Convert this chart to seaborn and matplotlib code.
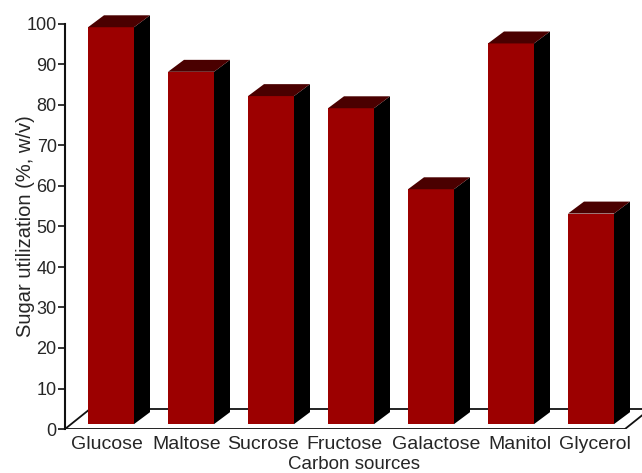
import numpy as np
import pandas as pd
import matplotlib
matplotlib.use("Agg")
import matplotlib.pyplot as plt
import matplotlib.transforms as mtransforms
from matplotlib.patches import Polygon
import seaborn as sns

# datos
sources = ["Glucose", "Maltose", "Sucrose", "Fructose", "Galactose", "Manitol", "Glycerol"]
utilization = [98, 87, 81, 78, 58, 94, 52]
yticks = [0, 10, 20, 30, 40, 50, 60, 70, 80, 90, 100]

df = pd.DataFrame({"source": sources, "value": utilization})

sns.set_style("white")
plt.rcParams["font.family"] = ["Liberation Sans", "DejaVu Sans"]

fig = plt.figure(figsize=(6.42, 4.73), dpi=100)
ax = fig.add_axes([65 / 642, 44 / 473, 577 / 642, 405 / 473])

front = "#9c0000"
top_c = "#4a0000"
side_c = "#000000"
bar_w = 0.575
base = 1.2          # la cara frontal arranca un poco sobre el piso
dx, dy = 0.2, 2.95  # desplazamiento de profundidad de las barras

sns.barplot(data=df, x="source", y="value", color=front, width=bar_w,
            saturation=1, edgecolor="none", linewidth=0, ax=ax, zorder=3)

for p in ax.patches:
    p.set_y(base)
    x0 = p.get_x()
    w = p.get_width()
    h = p.get_height()
    x1 = x0 + w
    yt = base + h
    side = Polygon([(x1, base), (x1 + dx, base + dy), (x1 + dx, yt + dy), (x1, yt)],
                   closed=True, facecolor=side_c, edgecolor="none", zorder=3, clip_on=False)
    top = Polygon([(x0, yt), (x0 + dx, yt + dy), (x1 + dx, yt + dy), (x1, yt)],
                  closed=True, facecolor=top_c, edgecolor="none", zorder=3, clip_on=False)
    ax.add_patch(side)
    ax.add_patch(top)

n = len(sources)
xl = -bar_w
xr = n - 1 + 0.425
ax.set_xlim(xl, n - 1 + 0.6375)
ax.set_ylim(0, 100)

# piso en perspectiva
fdx, fdy = 0.31, 4.9
floor_kw = dict(color="#111111", lw=1.3, zorder=1, clip_on=True)
ax.plot([xl, xr], [0, 0], **floor_kw)
ax.plot([xl, xl + fdx], [0, fdy], **floor_kw)
ax.plot([xl + fdx, xr + 1], [fdy, fdy], **floor_kw)
ax.plot([xr, xr + fdx * 1.5], [0, fdy * 1.5], **floor_kw)

for s in ["top", "right", "bottom"]:
    ax.spines[s].set_visible(False)
ax.spines["left"].set_linewidth(1.5)
ax.spines["left"].set_color("#111111")

ax.set_yticks(yticks)
ax.tick_params(axis="y", which="both", left=True, length=5, width=1.2, direction="out",
               labelsize=13, pad=1, color="#111111")
ax.tick_params(axis="x", length=0, labelsize=14, pad=5)

# etiquetas apretadas como en el original (desplazamiento en px)
shifts = [-4, -4.5, -8, -6.5, 5, 9, 4]
for lab, s in zip(ax.get_xticklabels(), shifts):
    off = mtransforms.ScaledTranslation(s / 100, 0, fig.dpi_scale_trans)
    lab.set_transform(lab.get_transform() + off)

ax.set_xlabel("Carbon sources", fontsize=13.5, labelpad=2)
ax.set_ylabel("Sugar utilization (%, w/v)", fontsize=14.5, labelpad=-6)

fig.savefig("out.png", dpi=100)
